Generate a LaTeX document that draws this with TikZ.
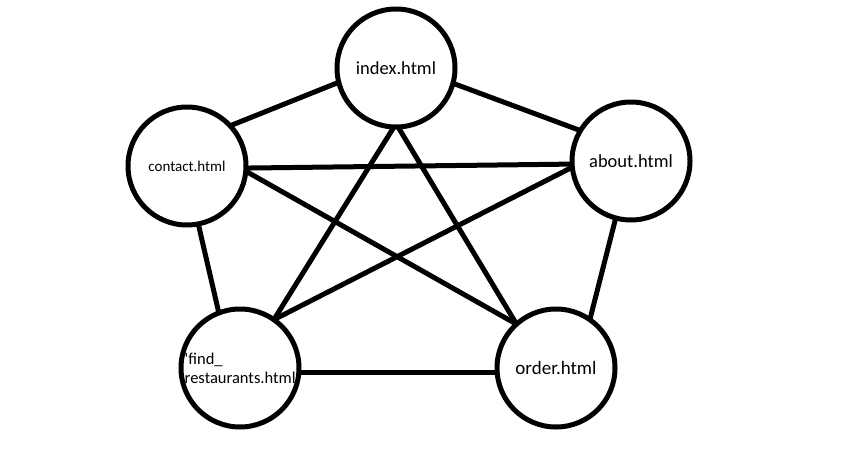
\documentclass[tikz,border=0pt]{standalone}
\usepackage{fontspec}
\newfontfamily\pagefont{Carlito}

\begin{document}
\begin{tikzpicture}[x=1pt,y=-1pt,
  page/.style={circle,draw,line width=5pt,minimum size=118pt,inner sep=0pt,outer sep=0pt,
    font=\pagefont\fontsize{18.5}{22}\selectfont},
  link/.style={line width=5pt}]
\useasboundingbox (0,0) rectangle (865,474);
\node [page] (index) at (396,68) {index.html};
\node [page,font=\pagefont\fontsize{15}{18}\selectfont] (contact) at (187,166) {contact.html};
\node [page] (about) at (631,161) {about.html};
\node [page] (find) at (240,368) {};
\node [align=left,inner sep=0pt,font=\pagefont\fontsize{16.5}{19}\selectfont] (findtext) at (242,368) {'find\_\\restaurants.html'};
\node [page,font=\pagefont\fontsize{19}{22}\selectfont] (order) at (556,368) {order.html};

% links between the pages
\draw [link] (index.194) -- (contact.43);
\draw [link] (index.345) -- (about.149);
\draw [link] (index.268) -- (find.55);
\draw [link] (index.272) -- (order.132);
\draw [link] (contact.358) -- (about.183);
\draw [link] (contact.355) -- (order.132);
\draw [link] (contact.281) -- (find.111);
\draw [link] (about.186) -- (find.55);
\draw [link] (about.255) -- (order.55);
\draw [link] (find.356) -- (order.184);
\end{tikzpicture}
\end{document}
